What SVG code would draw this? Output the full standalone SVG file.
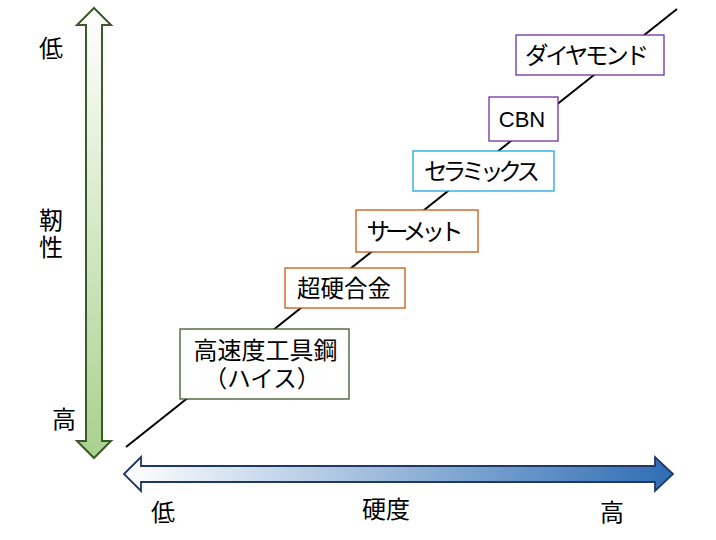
<svg xmlns="http://www.w3.org/2000/svg" width="716" height="540" viewBox="0 0 716 540">
<defs>
<linearGradient id="gv" x1="0" y1="0" x2="0" y2="1">
<stop offset="0" stop-color="#ffffff"/>
<stop offset="1" stop-color="#a9d18e"/>
</linearGradient>
<linearGradient id="gh" x1="0" y1="0" x2="1" y2="0">
<stop offset="0" stop-color="#ffffff"/>
<stop offset="1" stop-color="#2e6db4"/>
</linearGradient>
<style>
text{font-family:"Noto Sans CJK JP","Noto Sans",sans-serif;fill:#000;text-anchor:middle}
.lbl{font-size:24px}
.bt{font-size:23.5px}
.box{fill:#fff;stroke-width:1.3}
</style>
</defs>
<rect width="716" height="540" fill="#fff"/>
<g id="connectors">
<line x1="126" y1="447" x2="677" y2="9" stroke="#000" stroke-width="2"/>
</g>
<g id="axis-toughness">
<polygon points="94,8 111,25 102,25 102,441 111,441 94,458 77,441 86,441 86,25 77,25" fill="url(#gv)" stroke="#3a5a28" stroke-width="2" stroke-linejoin="miter"/>
</g>
<g id="axis-hardness">
<polygon points="124,474 141,457 141,466 655,466 655,457 673,474 655,491 655,482 141,482 141,491" fill="url(#gh)" stroke="#1f3864" stroke-width="1.8" stroke-linejoin="miter"/>
</g>
<g id="labels">
<text class="lbl" x="51" y="57">低</text>
<text class="lbl" x="51" y="229">靭</text>
<text class="lbl" x="51" y="256">性</text>
<text class="lbl" x="64" y="428">高</text>
<text class="lbl" x="163" y="521">低</text>
<text class="lbl" x="386" y="518">硬度</text>
<text class="lbl" x="612" y="521">高</text>
</g>
<g id="node-hss">
<rect class="box" x="180" y="329" width="169" height="70" stroke="#3a5a28"/>
<text class="bt" x="265.5" y="359" style="font-size:24px">高速度工具鋼</text>
<text class="bt" x="262" y="387">（ハイス）</text>
</g>
<g id="node-carbide">
<rect class="box" x="285" y="268" width="120" height="40" stroke="#c55a11"/>
<text class="bt" x="344" y="297">超硬合金</text>
</g>
<g id="node-cermet">
<rect class="box" x="356" y="210" width="122" height="42" stroke="#c55a11"/>
<text class="bt" x="415" y="240" textLength="97" lengthAdjust="spacing">サーメット</text>
</g>
<g id="node-ceramics">
<rect class="box" x="413" y="151" width="141" height="40" stroke="#1ea7e0"/>
<text class="bt" x="482" y="180" textLength="116" lengthAdjust="spacing">セラミックス</text>
</g>
<g id="node-cbn">
<rect class="box" x="489" y="97" width="69" height="44" stroke="#7030a0"/>
<text x="522" y="127" style="font-family:'Liberation Sans',Arial,sans-serif;font-size:22px">CBN</text>
</g>
<g id="node-diamond">
<rect class="box" x="516" y="35" width="148" height="40" stroke="#7030a0"/>
<text class="bt" x="587" y="64" textLength="124" lengthAdjust="spacing">ダイヤモンド</text>
</g>
</svg>
